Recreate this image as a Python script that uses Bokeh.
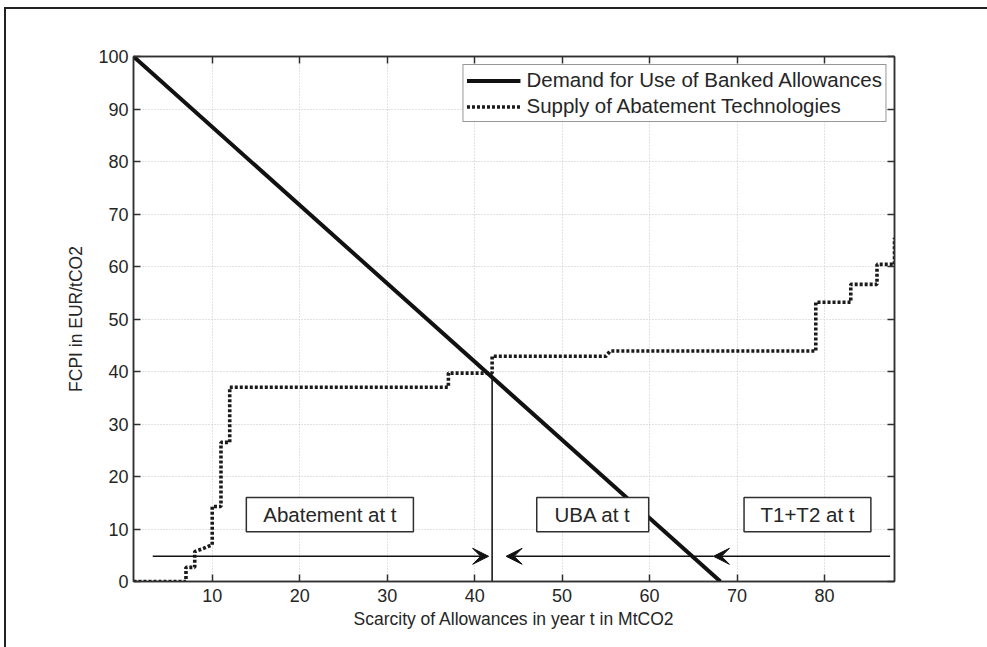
from bokeh.plotting import figure
from bokeh.models import (Range1d, FixedTicker, LinearAxis, Legend, LegendItem,
                          Arrow, VeeHead, ColumnDataSource)
from bokeh.core.properties import value
from bokeh.embed import file_html
from bokeh.resources import INLINE

# ---------------- data ----------------
demand_x = [1, 68.1]
demand_y = [100, 0]

supply_x = [1, 7, 7, 8, 8, 9, 10, 10, 11, 11, 12, 12, 37, 37, 42, 42, 55, 55.5,
            79, 79, 83, 83, 86, 86, 88, 88]
supply_y = [0, 0, 2.7, 2.7, 5.7, 6.3, 7, 14.3, 14.3, 26.5, 26.5, 37, 37, 39.7,
            39.7, 42.9, 42.9, 43.9, 43.9, 53.2, 53.2, 56.6, 56.6, 60.4, 60.4, 65.5]

eq_x = 42
eq_y = 38.8

x_ticks = [10, 20, 30, 40, 50, 60, 70, 80]
y_ticks = [0, 10, 20, 30, 40, 50, 60, 70, 80, 90, 100]

box_labels = ["Abatement at t", "UBA at t", "T1+T2 at t"]
box_left = [13.9, 47.1, 70.8]
box_right = [33.0, 59.9, 85.3]
box_bottom = [9.5, 9.5, 9.5]
box_top = [16.0, 16.0, 16.0]

arrow_x_start = [3.2, 67.3, 87.5]
arrow_x_end = [41.6, 43.6, 67.3]
arrow_y = 4.8

FONT = "Liberation Sans"
TXT = "#262626"
AX = "#303030"

p = figure(width=987, height=647, output_backend="svg", toolbar_location=None,
           x_range=Range1d(1, 88), y_range=Range1d(0, 100),
           min_border_left=133, min_border_right=93, min_border_top=56,
           min_border_bottom=66)
# outer frame of the page (left and top lines) drawn as a CSS background
p.border_fill_color = None
p.background_fill_color = "white"
p.styles = {
    "background-color": "white",
    "background-image": "linear-gradient(#222222, #222222), linear-gradient(#222222, #222222)",
    "background-size": "2px 2000px, 2000px 2px",
    "background-position": "4px 7px, 4px 7px",
    "background-repeat": "no-repeat",
}
p.outline_line_color = AX
p.outline_line_width = 1.5

for ax in [p.xaxis[0], p.yaxis[0]]:
    ax.major_tick_in = 7
    ax.major_tick_out = 0
    ax.minor_tick_line_color = None
    ax.axis_line_color = AX
    ax.axis_line_width = 1.5
    ax.major_tick_line_color = AX
    ax.major_tick_line_width = 1.5
    ax.major_label_text_font = FONT
    ax.major_label_text_font_size = "18px"
    ax.major_label_text_color = TXT
    ax.axis_label_text_font = FONT
    ax.axis_label_text_font_size = "17.5px"
    ax.axis_label_text_font_style = "normal"
    ax.axis_label_text_color = TXT

p.xaxis.ticker = FixedTicker(ticks=x_ticks)
p.yaxis.ticker = FixedTicker(ticks=y_ticks)
p.xaxis.axis_label = "Scarcity of Allowances in year t in MtCO2"
p.yaxis.axis_label = "FCPI in EUR/tCO2"
p.xaxis.major_label_standoff = 7
p.xaxis.axis_label_standoff = 4
p.yaxis.major_label_standoff = 5
p.yaxis.axis_label_standoff = 9

top_ax = LinearAxis(ticker=FixedTicker(ticks=x_ticks), major_tick_in=7, major_tick_out=0,
                    minor_tick_line_color=None, major_label_text_color=None,
                    major_label_text_font_size="1px",
                    axis_line_color=AX, axis_line_width=1.5, major_tick_line_color=AX,
                    major_tick_line_width=1.5)
right_ax = LinearAxis(ticker=FixedTicker(ticks=y_ticks), major_tick_in=7, major_tick_out=0,
                      minor_tick_line_color=None, major_label_text_color=None,
                      major_label_text_font_size="1px",
                      axis_line_color=AX, axis_line_width=1.5, major_tick_line_color=AX,
                      major_tick_line_width=1.5)
p.add_layout(top_ax, "above")
p.add_layout(right_ax, "right")

p.xgrid.ticker = FixedTicker(ticks=x_ticks)
p.ygrid.ticker = FixedTicker(ticks=y_ticks)
for g in [p.xgrid[0], p.ygrid[0]]:
    g.grid_line_color = "#c4c4c4"
    g.grid_line_dash = "1 2"
    g.grid_line_width = 1

# equilibrium vertical line
p.segment(x0=[eq_x], y0=[0], x1=[eq_x], y1=[eq_y], line_color="#1a1a1a", line_width=1.6)

# supply & demand
r_supply = p.line(supply_x, supply_y, line_color="#1a1a1a", line_width=3.6, line_dash="3 2")
r_demand = p.line(demand_x, demand_y, line_color="#111111", line_width=4)

# arrows
for xs, xe in zip(arrow_x_start, arrow_x_end):
    p.add_layout(Arrow(end=VeeHead(size=16, fill_color="#111111", line_color="#111111",
                                   line_width=1),
                       x_start=xs, y_start=arrow_y, x_end=xe, y_end=arrow_y,
                       line_color="#111111", line_width=1.4))

# label boxes
box_src = ColumnDataSource(dict(left=box_left, right=box_right, bottom=box_bottom,
                                top=box_top,
                                cx=[(a + b) / 2 for a, b in zip(box_left, box_right)],
                                cy=[(a + b) / 2 for a, b in zip(box_bottom, box_top)],
                                txt=box_labels))
p.quad(left="left", right="right", bottom="bottom", top="top", source=box_src,
       fill_color="white", line_color=AX, line_width=1.5)
p.text(x="cx", y="cy", text="txt", source=box_src, text_align="center",
       text_baseline="middle", text_font=value(FONT), text_font_size="20.5px",
       text_color=TXT)

legend = Legend(items=[LegendItem(label="Demand for Use of Banked Allowances", renderers=[r_demand]),
                       LegendItem(label="Supply of Abatement Technologies", renderers=[r_supply])],
                location="top_right")
legend.margin = 8
legend.padding = 3
legend.spacing = 2
legend.label_height = 21
legend.glyph_height = 21
legend.glyph_width = 54
legend.label_standoff = 6
legend.label_text_font = FONT
legend.label_text_font_size = "20.5px"
legend.label_text_color = TXT
legend.border_line_color = AX
legend.border_line_width = 1.5
legend.background_fill_alpha = 1
p.add_layout(legend)

open("out.html", "w").write(file_html(p, INLINE))
